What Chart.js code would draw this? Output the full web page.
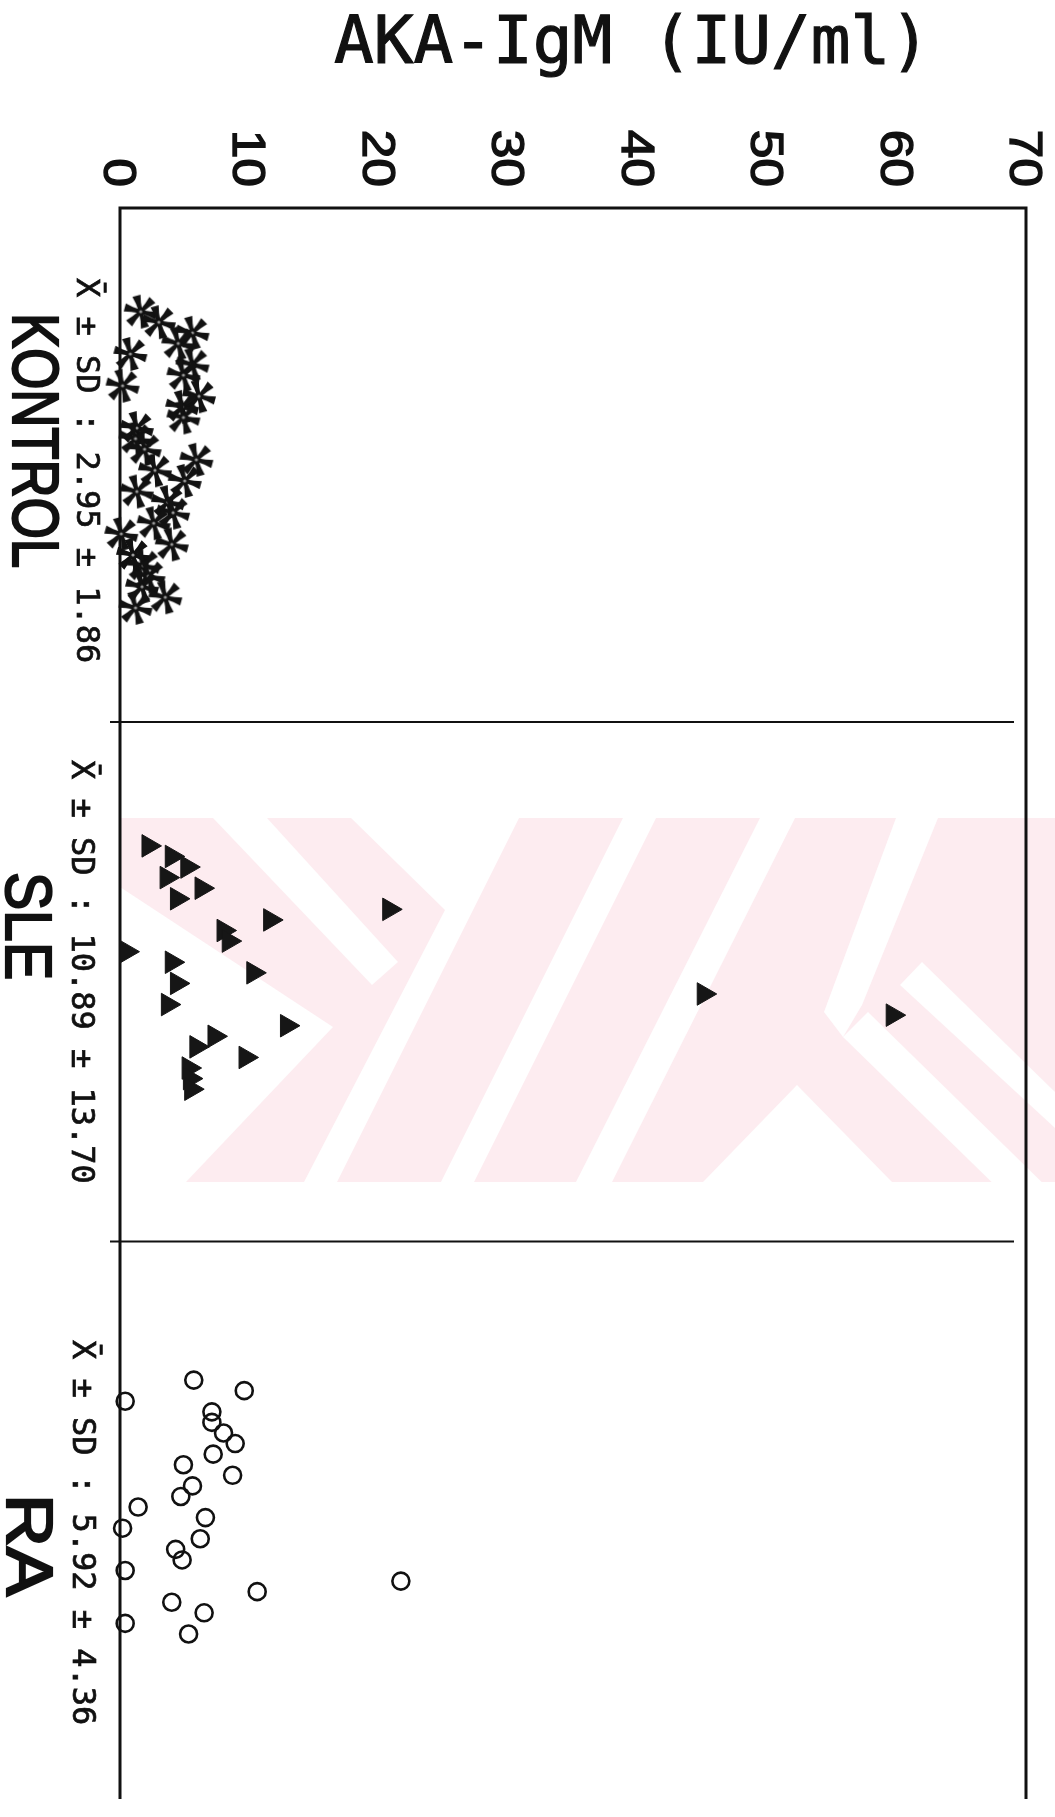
<!DOCTYPE html>
<html>
<head>
<meta charset="utf-8">
<script src="https://cdn.jsdelivr.net/npm/chart.js@4.4.1/dist/chart.umd.min.js"></script>
<style>
  html, body { margin: 0; padding: 0; background: #fff; overflow: hidden; }
  #wrap { width: 1055px; height: 1817px; position: relative; }
</style>
</head>
<body>
<div id="wrap"><canvas id="chart"></canvas></div>
<script>
// AKA-IgM values (IU/ml), one per subject, listed top to bottom as in the figure
const groups = ['KONTROL', 'SLE', 'RA'];
const statLabels = ['X\u0304 \u00b1 SD : 2.95 \u00b1 1.86', 'X\u0304 \u00b1 SD : 10.89 \u00b1 13.70', 'X\u0304 \u00b1 SD : 5.92 \u00b1 4.36'];

const kontrolValues = [1.6, 3.0, 5.6, 4.5, 0.8, 5.6, 4.9, 0.2, 6.1, 4.8, 4.9, 1.3, 1.2, 1.9, 5.9,
  2.7, 5.0, 1.3, 3.7, 4.1, 2.6, 0.1, 4.0, 1.0, 1.8, 2.2, 1.7, 3.5, 1.2];
const sleValues = [2.2, 4.0, 5.2, 3.6, 6.3, 4.4, 20.8, 11.6, 8.0, 8.4, 0.5, 4.0, 10.3, 4.4, 45.1,
  3.7, 59.7, 12.9, 7.3, 5.9, 9.7, 5.3, 5.4, 5.5];
const raValues = [5.7, 9.6, 0.4, 7.1, 7.1, 8.0, 8.9, 7.2, 4.9, 8.7, 5.6, 4.7, 1.4, 6.6, 0.2,
  6.2, 4.3, 4.8, 0.4, 21.7, 10.6, 4.0, 6.5, 0.4, 5.3];

const valueTicks = [0, 10, 20, 30, 40, 50, 60, 70];

// layout of the subject rows (vertical axis, one row per subject)
const groupFirstRow = [0, 50.5, 101];
const bandEdges = [38.8, 87.9];

function rows(values, g) {
  return values.map((v, i) => ({ x: v, y: groupFirstRow[g] + i }));
}

function makeAsterisk() {
  const size = 36;
  const c = document.createElement('canvas');
  c.width = c.height = size;
  const g = c.getContext('2d');
  g.translate(size / 2, size / 2);
  g.fillStyle = '#121212';
  [15, 75, 135, 195, 255, 315].forEach(a => {
    g.save();
    g.rotate(a * Math.PI / 180);
    g.beginPath();
    g.moveTo(1, -1.8);
    g.lineTo(9, -2.6);
    g.lineTo(16.5, -4.2);
    g.lineTo(16.5, 4.2);
    g.lineTo(9, 2.6);
    g.lineTo(1, 1.8);
    g.closePath();
    g.fill();
    g.restore();
  });
  g.beginPath();
  g.arc(0, 0, 3.5, 0, Math.PI * 2);
  g.fill();
  g.fillStyle = '#9a9a9a';
  g.beginPath();
  g.arc(0, 0, 1.6, 0, Math.PI * 2);
  g.fill();
  return c;
}

// faint pink watermark of the scanned page
const wmPink = '#fdecf0';
const wmCuts = [
  [[120, 887], [333, 1027], [186, 1182], [120, 1182]],
  [[213, 818], [267, 818], [398, 962], [372, 985]],
  [[351, 818], [519, 818], [337, 1182], [304, 1182], [445, 910]],
  [[623, 818], [656, 818], [474, 1182], [441, 1182]],
  [[760, 818], [795, 818], [612, 1182], [576, 1182]],
  [[797, 1085], [892, 1182], [703, 1182]],
  [[896, 818], [938, 818], [862, 1005], [843, 1037], [824, 1012]],
  [[843, 1037], [868, 1012], [1055, 1195], [1055, 1230], [1010, 1200]],
  [[900, 985], [922, 962], [1055, 1092], [1055, 1128]]
];

function rotatedText(ctx, text, cx, top, font, lift, len, weight) {
  ctx.save();
  ctx.translate(cx, top);
  ctx.rotate(Math.PI / 2);
  ctx.font = font;
  ctx.textAlign = 'left';
  ctx.textBaseline = 'alphabetic';
  if (len) ctx.scale(len / ctx.measureText(text).width, 1);
  ctx.fillText(text, 0, lift);
  if (weight) {
    ctx.lineWidth = weight;
    ctx.strokeText(text, 0, lift);
  }
  ctx.restore();
}

const figurePlugin = {
  id: 'figure',
  beforeDraw(chart) {
    const ctx = chart.ctx;
    ctx.save();
    ctx.fillStyle = '#fff';
    ctx.fillRect(0, 0, chart.width, chart.height);
    ctx.fillStyle = wmPink;
    ctx.fillRect(120, 818, 935, 364);
    ctx.fillStyle = '#fff';
    wmCuts.forEach(poly => {
      ctx.beginPath();
      poly.forEach((p, i) => (i ? ctx.lineTo(p[0], p[1]) : ctx.moveTo(p[0], p[1])));
      ctx.closePath();
      ctx.fill();
    });
    ctx.restore();
  },
  beforeDatasetsDraw(chart) {
    const { ctx, chartArea: a, scales: { y } } = chart;
    ctx.save();
    ctx.strokeStyle = '#111';
    ctx.lineWidth = 3;
    ctx.beginPath();
    ctx.moveTo(a.left, a.bottom);
    ctx.lineTo(a.left, a.top);
    ctx.lineTo(a.right, a.top);
    ctx.lineTo(a.right, a.bottom);
    ctx.stroke();
    ctx.lineWidth = 2;
    bandEdges.forEach(r => {
      const py = y.getPixelForValue(r);
      ctx.beginPath();
      ctx.moveTo(a.left - 10, py);
      ctx.lineTo(a.right - 12, py);
      ctx.stroke();
    });
    ctx.restore();
  },
  afterDraw(chart) {
    const { ctx, scales: { x } } = chart;
    ctx.save();
    ctx.fillStyle = '#111';
    ctx.strokeStyle = '#111';

    // axis title
    ctx.font = '66px "DejaVu Sans Mono"';
    ctx.textAlign = 'left';
    ctx.textBaseline = 'alphabetic';
    ctx.lineWidth = 1.2;
    ctx.fillText('AKA-IgM (IU/ml)', 334, 63);
    ctx.strokeText('AKA-IgM (IU/ml)', 334, 63);

    // value tick labels, turned a quarter clockwise
    valueTicks.forEach(v => {
      ctx.save();
      ctx.translate(x.getPixelForValue(v), 187);
      ctx.rotate(Math.PI / 2);
      ctx.scale(1.12, 1);
      ctx.font = '46px "Liberation Sans"';
      ctx.textAlign = 'right';
      ctx.textBaseline = 'alphabetic';
      ctx.lineWidth = 1.4;
      ctx.fillText(String(v), 0, 16);
      ctx.strokeText(String(v), 0, 16);
      ctx.restore();
    });

    // group names and statistics
    const nameBox = [[36, 313, 255], [29, 872, 108], [30, 1494, 102]];
    const statBox = [[88, 278], [83, 760], [84, 1340]];
    groups.forEach((name, g) => {
      const [cx, top, len] = nameBox[g];
      rotatedText(ctx, name, cx, top, '64px "Liberation Sans"', 23, len, 2.2);
      const [sx, sy] = statBox[g];
      rotatedText(ctx, statLabels[g], sx, sy, '32px "DejaVu Sans Mono"', 11.5, 0, 0.7);
    });
    ctx.restore();
  }
};

new Chart(document.getElementById('chart'), {
  type: 'scatter',
  data: {
    datasets: [
      {
        label: groups[0],
        data: rows(kontrolValues, 0),
        pointStyle: makeAsterisk(),
        pointRadius: 17,
        clip: false
      },
      {
        label: groups[1],
        data: rows(sleValues, 1),
        pointStyle: 'triangle',
        rotation: 90,
        pointRadius: 13,
        backgroundColor: '#161616',
        borderColor: '#161616',
        borderWidth: 1,
        clip: false
      },
      {
        label: groups[2],
        data: rows(raValues, 2),
        pointStyle: 'circle',
        pointRadius: 8.5,
        backgroundColor: 'rgba(0,0,0,0)',
        borderColor: '#111',
        borderWidth: 2.6,
        clip: false
      }
    ]
  },
  options: {
    responsive: true,
    maintainAspectRatio: false,
    animation: false,
    events: [],
    layout: { padding: { left: 120, top: 208, right: 29, bottom: 0 } },
    scales: {
      x: { type: 'linear', min: 0, max: 70, display: false },
      y: { type: 'linear', min: -9.8, max: 140.6, reverse: true, display: false }
    },
    plugins: {
      legend: { display: false },
      tooltip: { enabled: false }
    }
  },
  plugins: [figurePlugin]
});
</script>
</body>
</html>
